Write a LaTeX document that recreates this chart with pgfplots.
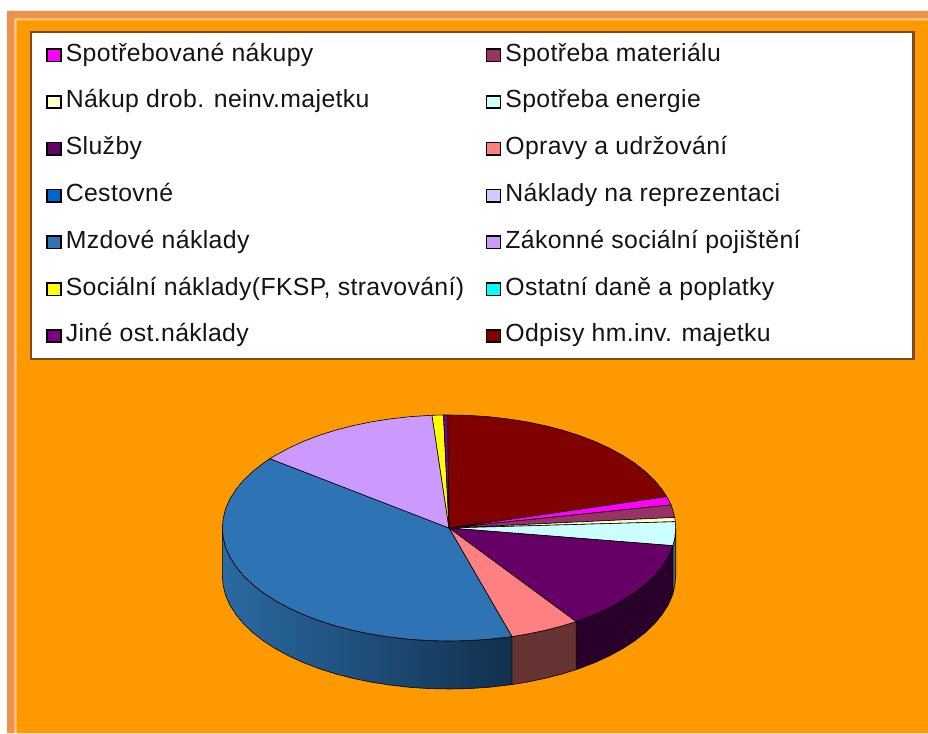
\documentclass[border=0pt]{standalone}
\usepackage{fontspec}
\usepackage{pgfplots}
\pgfplotsset{compat=1.18}
\newfontfamily\lf[LetterSpace=1.5]{Liberation Sans}
\setmainfont{Liberation Sans}
\definecolor{frameS}{HTML}{F0904F}
\definecolor{frameL}{HTML}{FFCC80}
\definecolor{bgO}{HTML}{FF9900}
\definecolor{legB}{HTML}{7F4A1E}
\definecolor{cA}{HTML}{FF00FF}
\definecolor{cB}{HTML}{993366}
\definecolor{cC}{HTML}{FFFFCC}
\definecolor{cD}{HTML}{CCFFFF}
\definecolor{cE}{HTML}{660066}
\definecolor{cF}{HTML}{FF8080}
\definecolor{cG}{HTML}{0066CC}
\definecolor{cH}{HTML}{CCCCFF}
\definecolor{cI}{HTML}{2E73B3}
\definecolor{cJ}{HTML}{CC99FF}
\definecolor{cK}{HTML}{FFFF00}
\definecolor{cL}{HTML}{00FFFF}
\definecolor{cM}{HTML}{800080}
\definecolor{cN}{HTML}{800000}
\definecolor{wD}{HTML}{516666}
\definecolor{wE}{HTML}{290029}
\definecolor{wF}{HTML}{663333}
\definecolor{wIl}{HTML}{2A6AA2}
\definecolor{wIr}{HTML}{12304E}
\newcommand{\la}[1]{\makebox[424pt][l]{\hspace{4pt}#1}}
\newcommand{\lb}[1]{\makebox[397pt][l]{\hspace{4pt}#1}}
\begin{document}
\begin{tikzpicture}
\begin{axis}[
  scale only axis, width=928pt, height=733pt,
  xmin=0, xmax=928, ymin=0, ymax=733, y dir=reverse,
  hide axis,
  legend columns=2,
  legend cell align=left,
  legend image code/.code={\draw[#1,draw=black,line width=1.6pt,line join=miter] (0pt,-6.2pt) rectangle (14pt,6.2pt);},
  legend style={at={(30/928,1-31/733)},anchor=north west,draw=legB,line width=2.4pt,fill=white,
    font=\lf\fontsize{24.8}{24.8}\selectfont,text=black!92,
    inner xsep=15pt,inner ysep=12pt,row sep=24.8pt,
    nodes={inner sep=0pt,text height=17pt,text depth=5pt}},
  every axis plot/.append style={line width=0.6pt,line join=round,draw=black}
]
\addplot[forget plot,draw=none,fill=white] coordinates {(0,0)(928,0)(928,733)(0,733)(0,0)};
\addplot[forget plot,draw=none,fill=frameS] coordinates {(7,11)(928,11)(928,733)(7,733)(7,11)};
\addplot[forget plot,draw=none,fill=frameL] coordinates {(14.3,18.3)(928,18.3)(928,733)(14.3,733)(14.3,18.3)};
\addplot[forget plot,draw=none,fill=bgO] coordinates {(16.5,20.3)(928,20.3)(928,733)(16.5,733)(16.5,20.3)};
% side walls
\addplot[forget plot,fill=wD] coordinates {(675.7,528)(674.8,537.8)(672.9,545.7)(672.9,593.7)(674.8,585.8)(675.7,576)(675.7,528)};
\addplot[forget plot,fill=wE] coordinates {(672.9,545.7)(672.3,547.6)(668,557.2)(662,566.6)(654.5,575.8)(645.3,584.5)(634.7,592.8)(622.7,600.6)(609.3,607.9)(594.7,614.6)(579,620.6)(576.1,621.6)(576.1,669.6)(579,668.6)(594.7,662.6)(609.3,655.9)(622.7,648.6)(634.7,640.8)(645.3,632.5)(654.5,623.8)(662,614.6)(668,605.2)(672.3,595.6)(672.9,593.7)(672.9,545.7)};
\addplot[forget plot,fill=wF] coordinates {(576.1,621.6)(562.4,625.9)(544.8,630.4)(526.5,634.2)(511.9,636.6)(511.9,684.6)(526.5,682.2)(544.8,678.4)(562.4,673.9)(576.1,669.6)(576.1,621.6)};
\addplot[forget plot,left color=wIl,right color=wIr] coordinates {(511.9,636.6)(507.7,637.1)(488.4,639.3)(468.8,640.6)(449,641)(429.2,640.6)(409.6,639.3)(390.3,637.1)(371.5,634.2)(353.2,630.4)(335.6,625.9)(319,620.6)(303.3,614.6)(288.7,607.9)(275.3,600.6)(263.3,592.8)(252.7,584.5)(243.5,575.8)(236,566.6)(230,557.2)(225.7,547.6)(223.2,537.8)(222.3,528)(222.3,576)(223.2,585.8)(225.7,595.6)(230,605.2)(236,614.6)(243.5,623.8)(252.7,632.5)(263.3,640.8)(275.3,648.6)(288.7,655.9)(303.3,662.6)(319,668.6)(335.6,673.9)(353.2,678.4)(371.5,682.2)(390.3,685.1)(409.6,687.3)(429.2,688.6)(449,689)(468.8,688.6)(488.4,687.3)(507.7,685.1)(511.9,684.6)(511.9,636.6)};
% slices, in legend order
\addplot[fill=cA] coordinates {(449,528)(666.7,496.5)(668,498.8)(671,504.9)(449,528)};
\addlegendentry{\la{Spotřebované nákupy}}
\addplot[fill=cB] coordinates {(449,528)(671,504.9)(672.3,508.4)(674.7,517.4)(449,528)};
\addlegendentry{\lb{Spotřeba materiálu}}
\addplot[fill=cC] coordinates {(449,528)(674.7,517.4)(674.8,518.2)(675.3,521.7)(449,528)};
\addlegendentry{\la{Nákup drob. neinv.majetku}}
\addplot[fill=cD] coordinates {(449,528)(675.3,521.7)(675.7,528)(674.8,537.8)(672.9,545.7)(449,528)};
\addlegendentry{\lb{Spotřeba energie}}
\addplot[fill=cE] coordinates {(449,528)(672.9,545.7)(672.3,547.6)(668,557.2)(662,566.6)(654.5,575.8)(645.3,584.5)(634.7,592.8)(622.7,600.6)(609.3,607.9)(594.7,614.6)(579,620.6)(576.1,621.6)(449,528)};
\addlegendentry{\la{Služby}}
\addplot[fill=cF] coordinates {(449,528)(576.1,621.6)(562.4,625.9)(544.8,630.4)(526.5,634.2)(511.9,636.6)(449,528)};
\addlegendentry{\lb{Opravy a udržování}}
\addplot[fill=cG] coordinates {(449,528)(449,528)};
\addlegendentry{\la{Cestovné}}
\addplot[fill=cH] coordinates {(449,528)(449,528)};
\addlegendentry{\lb{Náklady na reprezentaci}}
\addplot[fill=cI] coordinates {(449,528)(511.9,636.6)(507.7,637.1)(488.4,639.3)(468.8,640.6)(449,641)(429.2,640.6)(409.6,639.3)(390.3,637.1)(371.5,634.2)(353.2,630.4)(335.6,625.9)(319,620.6)(303.3,614.6)(288.7,607.9)(275.3,600.6)(263.3,592.8)(252.7,584.5)(243.5,575.8)(236,566.6)(230,557.2)(225.7,547.6)(223.2,537.8)(222.3,528)(223.2,518.2)(225.7,508.4)(230,498.8)(236,489.4)(243.5,480.2)(252.7,471.5)(263.3,463.2)(269.9,458.7)(449,528)};
\addlegendentry{\la{Mzdové náklady}}
\addplot[fill=cJ] coordinates {(449,528)(269.9,458.7)(275.3,455.4)(288.7,448.1)(303.3,441.4)(319,435.4)(335.6,430.1)(353.2,425.6)(371.5,421.8)(390.3,418.9)(409.6,416.7)(429.2,415.4)(432,415.3)(449,528)};
\addlegendentry{\lb{Zákonné sociální pojištění}}
\addplot[fill=cK] coordinates {(449,528)(432,415.3)(443.5,415)(449,528)};
\addlegendentry{\la{Sociální náklady(FKSP, stravování)}}
\addplot[fill=cL] coordinates {(449,528)(449,528)};
\addlegendentry{\lb{Ostatní daně a poplatky}}
\addplot[fill=cM] coordinates {(449,528)(443.5,415)(447.8,415)(449,528)};
\addlegendentry{\la{Jiné ost.náklady}}
\addplot[fill=cN] coordinates {(449,528)(447.8,415)(449,415)(468.8,415.4)(488.4,416.7)(507.7,418.9)(526.5,421.8)(544.8,425.6)(562.4,430.1)(579,435.4)(594.7,441.4)(609.3,448.1)(622.7,455.4)(634.7,463.2)(645.3,471.5)(654.5,480.2)(662,489.4)(666.7,496.5)(449,528)};
\addlegendentry{\lb{Odpisy hm.inv. majetku}}
\end{axis}
\end{tikzpicture}
\end{document}
